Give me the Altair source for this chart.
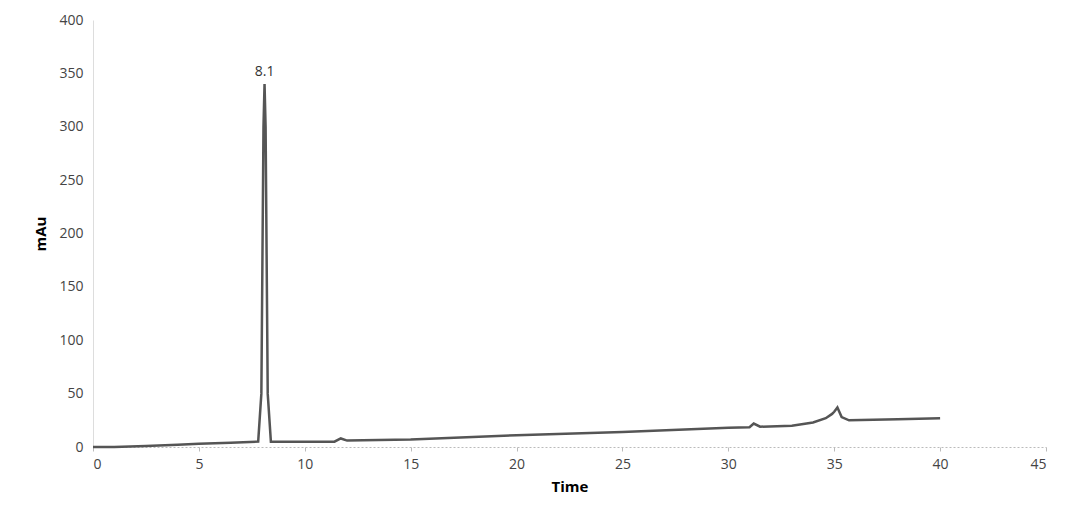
import altair as alt
import pandas as pd

time = [0, 1, 2.5, 4, 5, 6.5, 7.8, 7.95, 8.05, 8.1, 8.15, 8.25, 8.4, 9, 11.4, 11.7, 12.0, 15, 20, 25, 30, 31.0, 31.2, 31.5, 33, 34, 34.6, 34.9, 35.0, 35.15, 35.35, 35.7, 38, 40]
mau = [0, 0, 1, 2, 3, 4, 5, 50, 300, 340, 300, 50, 5, 5, 5, 8, 6, 7, 11, 14, 18, 18.5, 22, 19, 20, 23, 27, 31, 33, 37, 28, 25, 26, 27]
peak_t = [8.1]
peak_v = [340]
peak_lbl = ["8.1"]

df = pd.DataFrame({"Time": time, "mAu": mau})
pk = pd.DataFrame({"Time": peak_t, "mAu": peak_v, "lbl": peak_lbl})

F = "Open Sans"
x = alt.X("Time:Q", scale=alt.Scale(domain=[0, 45]), axis=alt.Axis(values=list(range(0, 50, 5)), grid=False, domain=True, domainColor="#bbb", domainDash=[2, 2], tickColor="#bbb", tickSize=4, labelFontSize=14, labelColor="#444", titleFontSize=15, titleFontWeight="bold", labelPadding=6, titlePadding=8))
y = alt.Y("mAu:Q", scale=alt.Scale(domain=[0, 400]), axis=alt.Axis(values=list(range(0, 450, 50)), grid=False, domain=True, domainColor="#ddd", ticks=False, labelFontSize=14, labelColor="#444", titleFontSize=15, titleFontWeight="bold", labelPadding=10, titlePadding=10))

line = alt.Chart(df).mark_line(color="#555", strokeWidth=2.5).encode(x=x, y=y)
txt = alt.Chart(pk).mark_text(dy=-12, fontSize=14, color="#333", font=F).encode(x="Time:Q", y="mAu:Q", text="lbl:N")

chart = (line + txt).properties(width=953, height=427, padding={"left": 25, "top": 5, "right": 5, "bottom": 5}).configure(font=F).configure_view(stroke=None)
chart.save("out.html", embed_options={"renderer": "svg", "actions": False})
